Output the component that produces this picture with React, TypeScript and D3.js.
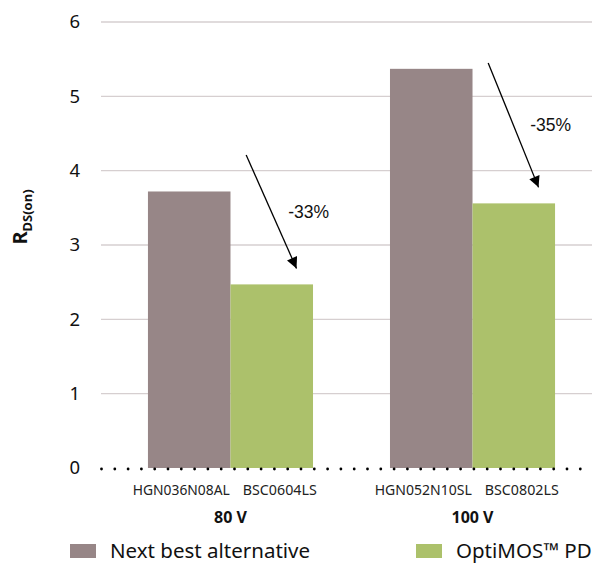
import React from "react";
import * as d3 from "d3";

const groups = ["80 V", "100 V"];
const parts = [
  ["HGN036N08AL", "BSC0604LS"],
  ["HGN052N10SL", "BSC0802LS"],
];
const alternativeValues = [3.72, 5.37];
const optimosValues = [2.47, 3.56];
const arrowFrom = [4.21, 5.45];
const reductionLabels = ["-33%", "-35%"];
const yTicks = [0, 1, 2, 3, 4, 5, 6];
const seriesNames = ["Next best alternative", "OptiMOS™ PD"];
const colors = ["#978687", "#acc16b"];

export default function App() {
  const W = 592, H = 563;
  const left = 101, right = 592;
  const y = d3.scaleLinear().domain([0, 6]).range([468, 22]);
  const xg = d3.scaleBand<string>().domain(groups).range([left, 602]).paddingInner(0.318).paddingOuter(0.194);
  const bw = xg.bandwidth() / 2;
  const font = "'Source Sans Pro', 'Noto Sans', 'Open Sans', sans-serif";
  const dots = d3.range(101.5, 592, 13.3);

  return (
    <svg width={W} height={H} style={{ position: "absolute", left: 0, top: 0 }}>
      <defs>
        <marker id="ah" viewBox="0 0 10 10" refX="10" refY="5" markerWidth="17" markerHeight="11" markerUnits="userSpaceOnUse" orient="auto">
          <path d="M0,0 L10,5 L0,10 z" fill="#000" />
        </marker>
      </defs>
      {yTicks.map((t) => (
        <g key={t}>
          {t > 0 && <line x1={left} x2={right} y1={y(t)} y2={y(t)} stroke="#d6cfd0" strokeWidth={1.3} />}
          <text x={80} y={y(t)} dy="0.35em" textAnchor="end" fontFamily={font} fontSize={18.5} fill="#111">{t}</text>
        </g>
      ))}
      {groups.map((g, i) => {
        const x0 = xg(g)!;
        return (
          <g key={g}>
            <rect x={x0} y={y(alternativeValues[i])} width={bw} height={y(0) - y(alternativeValues[i])} fill={colors[0]} />
            <rect x={x0 + bw} y={y(optimosValues[i])} width={bw} height={y(0) - y(optimosValues[i])} fill={colors[1]} />
            <text x={x0 + bw / 2 - 8} y={495} textAnchor="middle" fontFamily={font} fontSize={14} fill="#222" textLength={97} lengthAdjust="spacingAndGlyphs">{parts[i][0]}</text>
            <text x={x0 + bw * 1.5 + 8} y={495} textAnchor="middle" fontFamily={font} fontSize={14} fill="#222" textLength={74} lengthAdjust="spacingAndGlyphs">{parts[i][1]}</text>
            <text x={x0 + bw} y={523} textAnchor="middle" fontFamily={font} fontSize={16} fontWeight="bold" fill="#111">{g}</text>
          </g>
        );
      })}
      {dots.map((d, i) => (
        <circle key={i} cx={d} cy={469} r={1.4} fill="#000" />
      ))}
      {groups.map((g, i) => {
        const x0 = xg(g)!;
        const xs = x0 + bw * 1.19, ys = y(arrowFrom[i]);
        const xe = x0 + bw * 1.8, ye = y(optimosValues[i]) - 16;
        return (
          <g key={"a" + g}>
            <line x1={xs} y1={ys} x2={xe} y2={ye} stroke="#000" strokeWidth={1.3} markerEnd="url(#ah)" />
            <text x={x0 + bw * 1.7} y={(ys + ye) / 2 + 6} fontFamily="'Liberation Sans', Arial, sans-serif" fontSize={17.5} fill="#111">{reductionLabels[i]}</text>
          </g>
        );
      })}
      <text transform="translate(27,217) rotate(-90)" textAnchor="middle" fontFamily={font} fontSize={20} fontWeight="bold" fill="#111">
        R<tspan fontSize={13} dy={5}>DS(on)</tspan>
      </text>
      <rect x={70} y={544} width={26} height={14} fill={colors[0]} />
      <text x={110} y={558} fontFamily={font} fontSize={20.5} fill="#111">{seriesNames[0]}</text>
      <rect x={416} y={544} width={26} height={14} fill={colors[1]} />
      <text x={456} y={558} fontFamily={font} fontSize={20.5} fill="#111">{seriesNames[1]}</text>
    </svg>
  );
}
